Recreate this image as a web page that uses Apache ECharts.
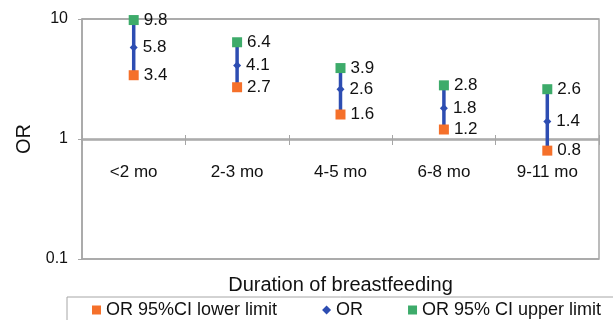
<!DOCTYPE html>
<html>
<head>
<meta charset="utf-8">
<script src="https://cdn.jsdelivr.net/npm/echarts@6/dist/echarts.min.js"></script>
<style>
html,body{margin:0;padding:0;background:#fff;}
#chart{width:613px;height:320px;}
</style>
</head>
<body>
<div id="chart"></div>
<script>
const categories = ['<2 mo', '2-3 mo', '4-5 mo', '6-8 mo', '9-11 mo'];
const lowerCI = [3.4, 2.7, 1.6, 1.2, 0.8];
const oddsRatio = [5.8, 4.1, 2.6, 1.8, 1.4];
const upperCI = [9.8, 6.4, 3.9, 2.8, 2.6];
const yTicks = [0.1, 1, 10];

const FONT = '"Liberation Sans", Arial, sans-serif';
const GRAY = '#A6A6A6';
const TXT = '#111111';
const ORANGE = '#F5702A';
const BLUE = '#2D4DB2';
const GREEN = '#3DAB6A';

const chart = echarts.init(document.getElementById('chart'), null, {renderer: 'canvas'});

const lbl = {
  show: true, position: 'right', distance: 5,
  fontFamily: FONT, fontSize: 17, color: TXT, opacity: 1,
  formatter: p => Number(p.value).toFixed(1)
};

const option = {
  animation: false,
  backgroundColor: '#fff',
  textStyle: {fontFamily: FONT},
  grid: {left: 82, right: 14, top: 19, bottom: 61, show: true, borderColor: GRAY, borderWidth: 1.5},
  legend: {
    data: [
      {name: 'OR 95%CI lower limit', icon: 'rect'},
      {name: 'OR', icon: 'diamond'},
      {name: 'OR 95% CI upper limit', icon: 'rect'}
    ],
    left: 67, top: 297, width: 900,
    padding: [4, 14, 8, 25],
    borderColor: GRAY, borderWidth: 1,
    itemWidth: 9, itemHeight: 9, itemGap: 45,
    textStyle: {fontFamily: FONT, fontSize: 18, color: TXT}
  },
  xAxis: [
    {
      type: 'category', data: categories, position: 'bottom', offset: -119,
      axisLine: {show: true, lineStyle: {color: GRAY, width: 1.5}},
      axisTick: {show: true, length: 5, lineStyle: {color: GRAY}},
      axisLabel: {margin: 24, fontFamily: FONT, fontSize: 17, color: TXT},
      splitLine: {show: false}
    },
    {
      type: 'category', data: categories, position: 'bottom', offset: -119,
      axisLine: {show: false},
      axisTick: {show: true, inside: true, length: 5, lineStyle: {color: GRAY}},
      axisLabel: {show: false},
      splitLine: {show: false}
    },
    {
      type: 'category', data: categories, position: 'bottom', offset: 0,
      axisLine: {show: false}, axisTick: {show: false}, axisLabel: {show: false},
      name: 'Duration of breastfeeding', nameLocation: 'middle', nameGap: 16,
      nameTextStyle: {fontFamily: FONT, fontSize: 20, color: TXT}
    }
  ],
  yAxis: {
    type: 'log', logBase: 10, min: 0.1, max: 10,
    axisLine: {show: true, lineStyle: {color: GRAY, width: 1.5}},
    axisTick: {show: true, length: 4, lineStyle: {color: GRAY}},
    axisLabel: {margin: 14, fontFamily: FONT, fontSize: 16, color: TXT,
      formatter: v => { const t = yTicks.find(k => Math.abs(k - v) < 1e-9); return t !== undefined ? String(t) : ''; }},
    splitLine: {show: true, lineStyle: {color: GRAY, width: 1.5}},
    name: 'OR', nameLocation: 'middle', nameGap: 46, nameRotate: 90,
    nameTextStyle: {fontFamily: FONT, fontSize: 20, color: TXT}
  },
  series: [
    {
      type: 'custom', name: 'CI', xAxisIndex: 0, z: 1,
      data: categories.map((c, i) => [i, lowerCI[i], upperCI[i]]),
      renderItem: (params, api) => {
        const p1 = api.coord([api.value(0), api.value(1)]);
        const p2 = api.coord([api.value(0), api.value(2)]);
        return {type: 'line', shape: {x1: p1[0], y1: p1[1], x2: p2[0], y2: p2[1]},
          style: {stroke: BLUE, lineWidth: 3.5}};
      },
      silent: true
    },
    {
      type: 'scatter', name: 'OR 95%CI lower limit', xAxisIndex: 0, z: 3,
      data: lowerCI, symbol: 'rect', symbolSize: 10,
      itemStyle: {color: ORANGE, opacity: 1}, label: lbl
    },
    {
      type: 'scatter', name: 'OR', xAxisIndex: 0, z: 3,
      data: oddsRatio, symbol: 'diamond', symbolSize: 8,
      itemStyle: {color: BLUE, opacity: 1}, label: lbl
    },
    {
      type: 'scatter', name: 'OR 95% CI upper limit', xAxisIndex: 0, z: 3,
      data: upperCI, symbol: 'rect', symbolSize: 10,
      itemStyle: {color: GREEN, opacity: 1}, label: lbl
    }
  ]
};
chart.setOption(option);
</script>
</body>
</html>
